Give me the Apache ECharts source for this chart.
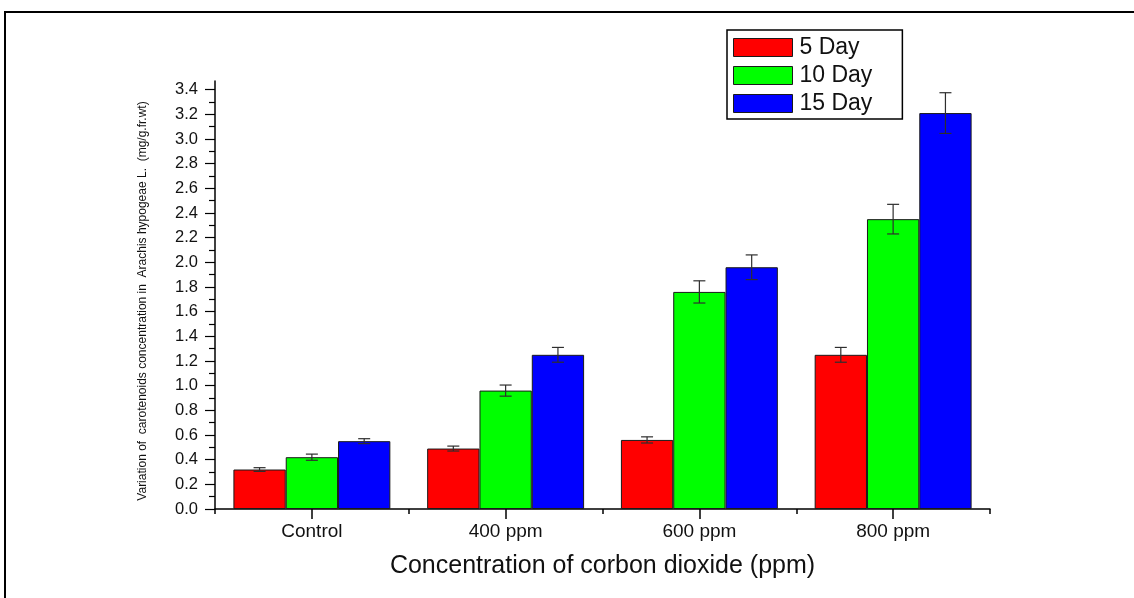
<!DOCTYPE html>
<html>
<head>
<meta charset="utf-8">
<script src="https://cdn.jsdelivr.net/npm/echarts@6/dist/echarts.min.js"></script>
<style>
html,body{margin:0;padding:0;background:#fff;}
#c{width:1134px;height:598px;}
</style>
</head>
<body>
<div id="c"></div>
<script>
const categories = ['Control', '400 ppm', '600 ppm', '800 ppm'];
const seriesNames = ['5 Day', '10 Day', '15 Day'];
const day5 = [0.32, 0.49, 0.56, 1.25];
const day10 = [0.42, 0.96, 1.76, 2.35];
const day15 = [0.55, 1.25, 1.96, 3.21];
const err5 = [0.015, 0.02, 0.025, 0.06];
const err10 = [0.025, 0.045, 0.09, 0.12];
const err15 = [0.02, 0.06, 0.10, 0.165];
const yTicks = [0.0, 0.2, 0.4, 0.6, 0.8, 1.0, 1.2, 1.4, 1.6, 1.8, 2.0, 2.2, 2.4, 2.6, 2.8, 3.0, 3.2, 3.4];
const yAxisTop = 3.47;
const colors = ['#ff0000', '#00ff00', '#0000ff'];

const FONT = '"Liberation Sans", Arial, sans-serif';
const values = [day5, day10, day15];
const errs = [err5, err10, err15];
const minorTicks = yTicks.slice(1).map((v, i) => (v + yTicks[i]) / 2);
const catGap = 0.19;

const chart = echarts.init(document.getElementById('c'), null, {renderer: 'canvas'});

const barSeries = values.map((vals, k) => ({
  name: seriesNames[k],
  type: 'bar',
  data: vals,
  barGap: '0%',
  barCategoryGap: (catGap * 100) + '%',
  itemStyle: {color: colors[k], borderColor: '#1a1a1a', borderWidth: 1},
  silent: true,
  z: 2
}));

const errSeries = errs.map((e, k) => ({
  type: 'custom',
  name: 'err' + k,
  silent: true,
  z: 5,
  data: e.map((d, i) => [i, values[k][i] - d, values[k][i] + d]),
  renderItem: function (params, api) {
    const ci = api.value(0);
    const lo = api.coord([ci, api.value(1)]);
    const hi = api.coord([ci, api.value(2)]);
    const cw = api.size([1, 0])[0];
    const bw = cw * (1 - catGap) / 3;
    const x = lo[0] + (k - 1) * bw;
    const cap = 6;
    const style = {stroke: '#2e2e2e', lineWidth: 1.2};
    return {
      type: 'group',
      children: [
        {type: 'line', shape: {x1: x, y1: lo[1], x2: x, y2: hi[1]}, style: style},
        {type: 'line', shape: {x1: x - cap, y1: lo[1], x2: x + cap, y2: lo[1]}, style: style},
        {type: 'line', shape: {x1: x - cap, y1: hi[1], x2: x + cap, y2: hi[1]}, style: style}
      ]
    };
  }
}));

chart.setOption({
  animation: false,
  backgroundColor: '#fff',
  textStyle: {fontFamily: FONT},
  graphic: [{
    type: 'rect', silent: true, z: 100,
    shape: {x: 5, y: 12, width: 1200, height: 700},
    style: {fill: 'none', stroke: '#000', lineWidth: 2}
  }],
  legend: {
    orient: 'vertical',
    left: 727, top: 30,
    padding: [6, 30, 4, 6],
    itemWidth: 59, itemHeight: 18, itemGap: 5,
    borderColor: '#000', borderWidth: 1.5,
    backgroundColor: '#fff',
    icon: 'rect',
    selectedMode: false,
    itemStyle: {borderColor: '#1a1a1a', borderWidth: 1},
    textStyle: {fontSize: 23, color: '#111', fontFamily: FONT, padding: [0, 0, 0, 2]},
    data: seriesNames
  },
  grid: {left: 215, right: 144, top: 81, bottom: 89},
  xAxis: [{
    type: 'category',
    position: 'bottom',
    data: categories,
    axisLine: {show: true, lineStyle: {color: '#000', width: 1.5}},
    axisTick: {show: true, length: 5, lineStyle: {color: '#000', width: 1.5}},
    axisLabel: {fontSize: 19, color: '#111', margin: 13, fontFamily: FONT},
    name: 'Concentration of corbon dioxide (ppm)',
    nameLocation: 'middle',
    nameGap: 45,
    nameTextStyle: {fontSize: 25, color: '#111', fontFamily: FONT},
    splitLine: {show: false}
  }, {
    type: 'category',
    position: 'bottom',
    data: categories,
    axisLine: {show: false},
    axisTick: {show: true, alignWithLabel: true, length: 10, lineStyle: {color: '#000', width: 1.5}},
    axisLabel: {show: false},
    splitLine: {show: false}
  }],
  yAxis: [{
    type: 'value',
    min: 0, max: yAxisTop,
    axisLine: {show: true, lineStyle: {color: '#000', width: 1.5}},
    axisTick: {show: true, length: 10, customValues: yTicks, lineStyle: {color: '#000', width: 1.2}},
    axisLabel: {customValues: yTicks, formatter: v => v.toFixed(1), fontSize: 16.5, color: '#111', margin: 17, fontFamily: FONT},
    splitLine: {show: false},
    name: 'Variation of  carotenoids concentration in  Arachis hypogeae L.  (mg/g.fr.wt)',
    nameLocation: 'middle',
    nameGap: 66,
    nameTextStyle: {fontSize: 12, color: '#111', fontFamily: FONT, padding: [0, 12, 0, 0]}
  }, {
    type: 'value',
    position: 'left',
    min: 0, max: yAxisTop,
    axisLine: {show: false},
    axisTick: {show: true, length: 6, customValues: minorTicks, lineStyle: {color: '#000', width: 1.2}},
    axisLabel: {show: false},
    splitLine: {show: false}
  }],
  series: barSeries.concat(errSeries)
});
</script>
</body>
</html>
